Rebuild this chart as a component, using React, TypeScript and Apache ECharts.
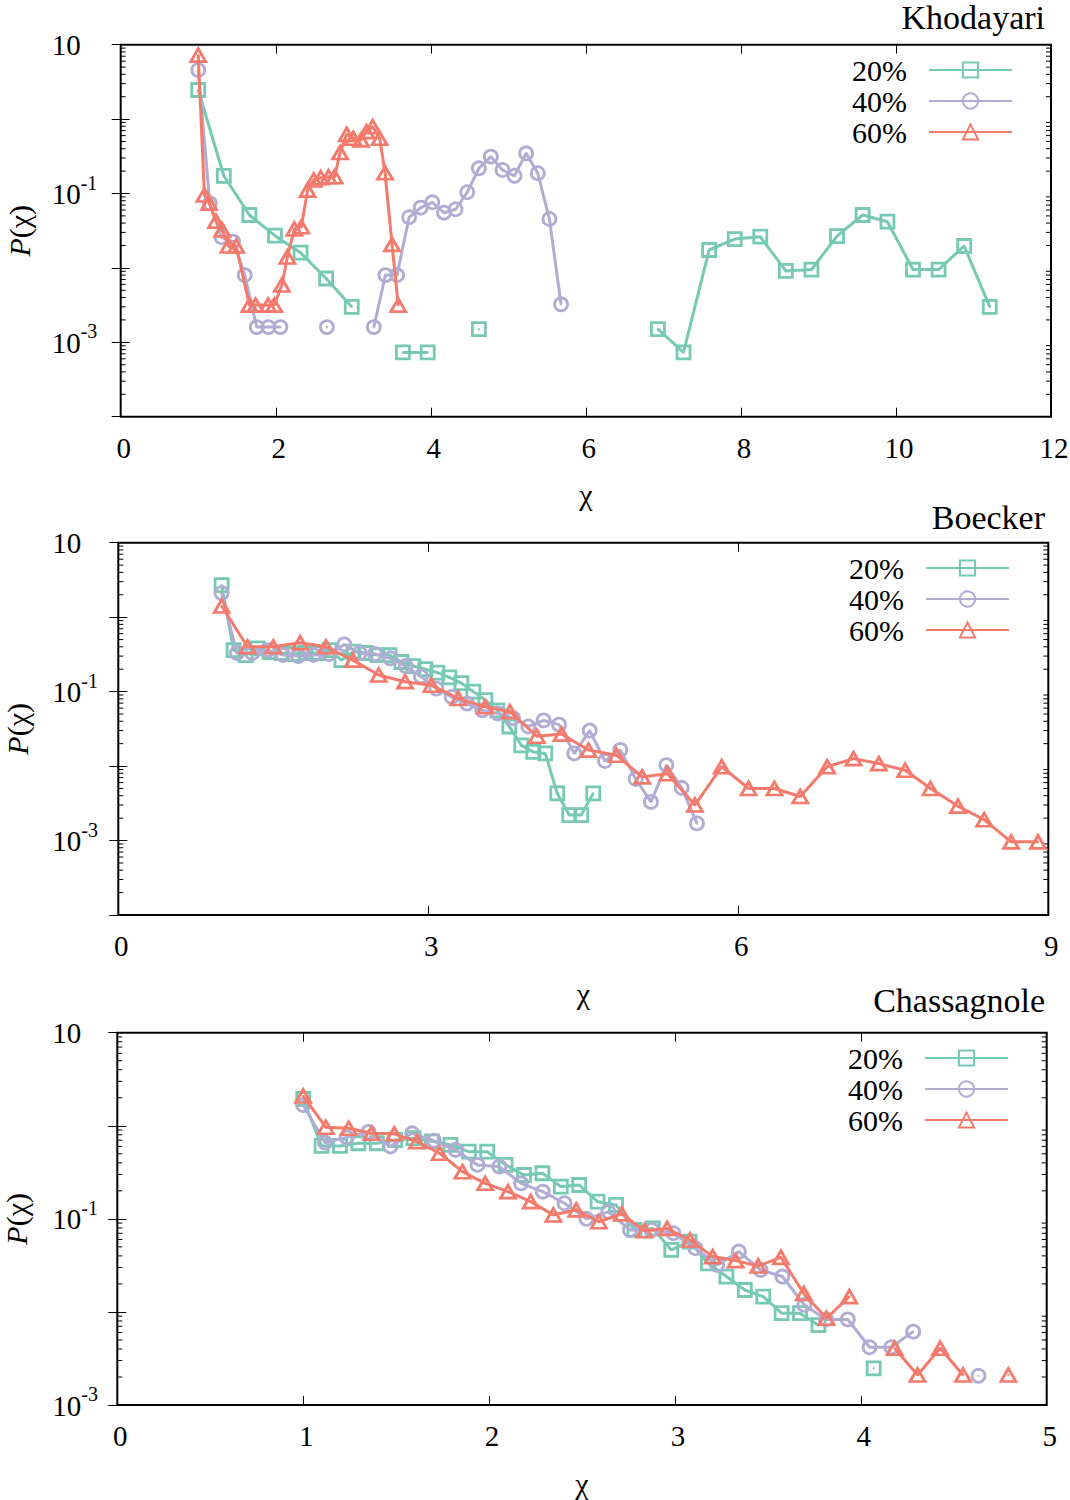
import React, { useEffect, useRef } from 'react';
import * as echarts from 'echarts';

// ---------------- data ----------------
const SERIES_NAMES = ['20%', '40%', '60%'];
const COLORS = ['#76c9b3', '#b0acd4', '#f47a6c'];
const SYMBOLS = ['rect', 'circle', 'triangle'];
const MINOR_MULTIPLIERS = [2, 3, 4, 5, 6, 7, 8, 9];

// Khodayari
const K20_X = [1.0, 1.33, 1.66, 1.99, 2.32, 2.65, 2.98, 3.31, 3.64, 3.96, 4.29, 4.62, 4.95, 5.28, 5.61, 5.94, 6.27, 6.6, 6.93, 7.26, 7.59, 7.92, 8.25, 8.58, 8.91, 9.24, 9.57, 9.89, 10.22, 10.55, 10.88, 11.21];
const K20_Y = [2.46, 0.173, 0.0514, 0.0271, 0.016, 0.0072, 0.003, null, 0.00073, 0.00073, null, 0.0015, null, null, null, null, null, null, 0.0015, 0.00073, 0.0174, 0.0244, 0.0263, 0.0091, 0.0095, 0.0268, 0.0514, 0.0418, 0.0095, 0.0095, 0.0197, 0.003];
const K40_X = [1.0, 1.15, 1.3, 1.45, 1.6, 1.755, 1.905, 2.06, 2.21, 2.36, 2.51, 2.66, 2.81, 2.96, 3.11, 3.265, 3.415, 3.565, 3.72, 3.87, 4.02, 4.17, 4.32, 4.47, 4.62, 4.775, 4.925, 5.08, 5.23, 5.38, 5.53, 5.68];
const K40_Y = [4.57, 0.0738, 0.0258, 0.0225, 0.008, 0.0016, 0.0016, 0.0016, null, null, null, 0.0016, null, null, null, 0.0016, 0.008, 0.008, 0.0479, 0.0645, 0.0762, 0.0552, 0.0614, 0.104, 0.218, 0.313, 0.207, 0.173, 0.347, 0.187, 0.0454, 0.00324];
const K60_X = [1.0, 1.08, 1.14, 1.23, 1.31, 1.39, 1.49, 1.66, 1.74, 1.9, 1.98, 2.08, 2.15, 2.24, 2.33, 2.41, 2.49, 2.58, 2.68, 2.76, 2.83, 2.915, 3.0, 3.1, 3.17, 3.25, 3.34, 3.41, 3.5, 3.58];
const K60_Y = [7.25, 0.0955, 0.074, 0.0426, 0.0324, 0.0197, 0.0197, 0.00316, 0.00316, 0.00316, 0.00316, 0.0059, 0.014, 0.0333, 0.0357, 0.111, 0.152, 0.163, 0.168, 0.168, 0.355, 0.624, 0.552, 0.525, 0.678, 0.79, 0.552, 0.19, 0.0207, 0.00316];

// Boecker
const B20_X = [1.0, 1.116, 1.232, 1.348, 1.464, 1.58, 1.696, 1.812, 1.928, 2.044, 2.16, 2.276, 2.392, 2.508, 2.624, 2.74, 2.856, 2.972, 3.088, 3.204, 3.32, 3.436, 3.552, 3.668, 3.784, 3.9, 4.016, 4.132, 4.248, 4.364, 4.48, 4.596];
const B20_Y = [2.7, 0.36, 0.31, 0.38, 0.34, 0.33, 0.32, 0.33, 0.33, 0.36, 0.265, 0.345, 0.33, 0.31, 0.31, 0.25, 0.22, 0.2, 0.18, 0.155, 0.13, 0.1, 0.077, 0.056, 0.034, 0.019, 0.0155, 0.0148, 0.0043, 0.0022, 0.0022, 0.0043];
const B40_X = [1.0, 1.148, 1.297, 1.445, 1.594, 1.742, 1.89, 2.039, 2.187, 2.336, 2.484, 2.632, 2.781, 2.929, 3.078, 3.226, 3.374, 3.523, 3.671, 3.82, 3.968, 4.116, 4.265, 4.413, 4.562, 4.71, 4.858, 5.007, 5.155, 5.304, 5.452, 5.6];
const B40_Y = [2.1, 0.33, 0.33, 0.36, 0.31, 0.3, 0.31, 0.32, 0.43, 0.33, 0.32, 0.28, 0.22, 0.16, 0.11, 0.085, 0.069, 0.056, 0.051, 0.044, 0.034, 0.041, 0.036, 0.0148, 0.03, 0.0117, 0.0165, 0.0067, 0.0033, 0.0103, 0.0051, 0.0017];
const B60_X = [1.0, 1.25, 1.5, 1.76, 2.01, 2.27, 2.52, 2.775, 3.03, 3.29, 3.55, 3.79, 4.05, 4.29, 4.55, 4.82, 5.07, 5.315, 5.58, 5.84, 6.1, 6.35, 6.6, 6.86, 7.115, 7.36, 7.615, 7.86, 8.125, 8.38, 8.64, 8.9];
const B60_Y = [1.41, 0.4, 0.4, 0.453, 0.4, 0.265, 0.167, 0.136, 0.122, 0.081, 0.0625, 0.0537, 0.0252, 0.0269, 0.0164, 0.014, 0.00716, 0.0079, 0.003, 0.0098, 0.005, 0.005, 0.0039, 0.0098, 0.0126, 0.0108, 0.0088, 0.005, 0.0029, 0.0019, 0.00096, 0.00096];

// Chassagnole
const C20_X = [1.0, 1.099, 1.198, 1.297, 1.396, 1.495, 1.594, 1.693, 1.792, 1.891, 1.99, 2.089, 2.188, 2.287, 2.386, 2.485, 2.584, 2.683, 2.782, 2.881, 2.98, 3.079, 3.178, 3.277, 3.376, 3.475, 3.574, 3.673, 3.772, 3.871, 3.97, 4.069];
const C20_Y = [1.94, 0.607, 0.607, 0.649, 0.649, 0.703, 0.735, 0.68, 0.623, 0.527, 0.527, 0.38, 0.296, 0.309, 0.222, 0.231, 0.153, 0.141, 0.076, 0.079, 0.0464, 0.0569, 0.0333, 0.024, 0.0172, 0.0146, 0.0097, 0.0097, 0.0072, null, null, 0.00248];
const C40_X = [1.0, 1.117, 1.234, 1.352, 1.469, 1.586, 1.703, 1.82, 1.938, 2.055, 2.172, 2.289, 2.406, 2.524, 2.641, 2.758, 2.875, 2.992, 3.11, 3.227, 3.344, 3.461, 3.578, 3.696, 3.813, 3.93, 4.047, 4.164, 4.282, 4.399, 4.516, 4.633];
const C40_Y = [1.67, 0.66, 0.75, 0.86, 0.6, 0.83, 0.69, 0.55, 0.38, 0.364, 0.241, 0.196, 0.147, 0.1, 0.119, 0.076, 0.076, 0.07, 0.0483, 0.032, 0.0445, 0.0282, 0.024, 0.0119, 0.0083, 0.0083, 0.00417, 0.00417, 0.00614, null, null, 0.00206];
const C60_X = [1.0, 1.122, 1.245, 1.367, 1.49, 1.612, 1.734, 1.857, 1.979, 2.102, 2.224, 2.346, 2.469, 2.591, 2.714, 2.836, 2.958, 3.081, 3.203, 3.326, 3.448, 3.57, 3.693, 3.815, 3.938, 4.06, 4.182, 4.305, 4.427, 4.55, 4.672, 4.794];
const C60_Y = [2.09, 0.964, 0.94, 0.83, 0.82, 0.676, 0.507, 0.321, 0.241, 0.196, 0.153, 0.11, 0.125, 0.093, 0.113, 0.0746, 0.079, 0.0593, 0.0393, 0.0356, 0.0312, 0.0386, 0.0158, 0.00855, 0.0146, null, 0.00407, 0.0021, 0.00407, 0.0021, null, 0.0021];

const TITLES = ['Khodayari', 'Boecker', 'Chassagnole'];
const X_MAX = [12, 9, 5];
const X_INTERVAL = [2, 3, 1];
const Y_MIN_EXP = [-4, -4, -3];
const Y_MAX_EXP = [1, 1, 1];
const Y_LABEL_EXPS = [1, -1, -3];
const X_LABEL = 'χ';
const Y_LABEL = '{i|P}(χ)';

const PANEL_DATA = [
  [[K20_X, K20_Y], [K40_X, K40_Y], [K60_X, K60_Y]],
  [[B20_X, B20_Y], [B40_X, B40_Y], [B60_X, B60_Y]],
  [[C20_X, C20_Y], [C40_X, C40_Y], [C60_X, C60_Y]],
];

// ---------------- layout ----------------
const GRIDS = [
  { left: 120.7, top: 44.7, width: 930.3, height: 372 },
  { left: 118.3, top: 542.7, width: 930, height: 372.3 },
  { left: 117.3, top: 1032.7, width: 929.4, height: 372.3 },
];
const Y_LABEL_MARGIN = [69, 66, 65];
const TITLE_TOP = [0, 500, 983];
const LEGEND_TOP = [55, 553, 1043];
const LEGEND_RIGHT = [57, 60, 61];

const FONT = '"Liberation Serif", "DejaVu Serif", "Times New Roman", serif';
const SYMBOL_SIZES: any[] = [13, 13, [15, 13]];

function buildOption() {
  const grid: any[] = [];
  const xAxis: any[] = [];
  const yAxis: any[] = [];
  const series: any[] = [];
  const title: any[] = [];
  const legend: any[] = [];

  for (let p = 0; p < 3; p++) {
    const g = GRIDS[p];
    grid.push({
      left: g.left, top: g.top, width: g.width, height: g.height,
      containLabel: false, outerBoundsMode: 'none',
      show: true, borderColor: '#000', borderWidth: 2, backgroundColor: 'rgba(0,0,0,0)',
    });
    const tick = { show: true, inside: true, length: 9, lineStyle: { color: '#000', width: 1 } };
    xAxis.push({
      type: 'value', gridIndex: p, min: 0, max: X_MAX[p], interval: X_INTERVAL[p],
      axisLine: { show: false }, axisTick: tick, splitLine: { show: false },
      axisLabel: { fontFamily: FONT, fontSize: 29, lineHeight: 30, color: '#000', margin: 16, padding: [0, 0, 0, 6] },
      name: X_LABEL, nameLocation: 'middle', nameGap: 63,
      nameTextStyle: { fontFamily: FONT, fontSize: 30, lineHeight: 30, color: '#000' },
    });
    xAxis.push({
      type: 'value', gridIndex: p, position: 'top', min: 0, max: X_MAX[p], interval: X_INTERVAL[p],
      axisLine: { show: false }, axisTick: tick, splitLine: { show: false }, axisLabel: { show: false },
    });
    const yMin = Math.pow(10, Y_MIN_EXP[p]);
    const yMax = Math.pow(10, Y_MAX_EXP[p]);
    const nDec = Y_MAX_EXP[p] - Y_MIN_EXP[p];
    yAxis.push({
      type: 'log', logBase: 10, gridIndex: p, min: yMin, max: yMax, splitNumber: nDec,
      axisLine: { show: false }, axisTick: tick, splitLine: { show: false }, minorTick: { show: false },
      axisLabel: {
        align: 'left', margin: Y_LABEL_MARGIN[p], color: '#000',
        formatter: (v: number) => {
          const e = Math.round(Math.log10(v));
          if (Y_LABEL_EXPS.indexOf(e) < 0) return '';
          if (e === 1) return '{b|10}{s| }';
          return '{b|10}{s|' + e + '}';
        },
        rich: {
          b: { fontFamily: FONT, fontSize: 29, lineHeight: 30, verticalAlign: 'bottom', color: '#000' },
          s: { fontFamily: FONT, fontSize: 20, lineHeight: 20, verticalAlign: 'bottom', padding: [0, 0, 16, 0], color: '#000' },
        },
      },
      name: Y_LABEL, nameLocation: 'middle', nameRotate: 90, nameGap: 86,
      nameTextStyle: {
        fontFamily: FONT, fontSize: 30, color: '#000',
        rich: { i: { fontFamily: FONT, fontSize: 30, fontStyle: 'italic', color: '#000' } },
      },
    });
    yAxis.push({
      type: 'log', logBase: 10, gridIndex: p, position: 'right', min: yMin, max: yMax, splitNumber: nDec,
      axisLine: { show: false }, axisTick: tick, splitLine: { show: false }, axisLabel: { show: false },
    });

    // data series
    PANEL_DATA[p].forEach((pair, s) => {
      const [xs, ys] = pair;
      const data = xs.map((x: number, j: number) => [x, ys[j] == null ? '-' : ys[j]]);
      series.push({
        type: 'line', name: SERIES_NAMES[s], xAxisIndex: 2 * p, yAxisIndex: 2 * p,
        data, symbol: SYMBOLS[s], symbolSize: SYMBOL_SIZES[s], showSymbol: true, showAllSymbol: true,
        connectNulls: false,
        lineStyle: { color: COLORS[s], width: 3 },
        itemStyle: { color: 'rgba(0,0,0,0)', borderColor: COLORS[s], borderWidth: 2.8 },
        emphasis: { disabled: true }, silent: true, z: 3 + s,
      });
      series.push({
        type: 'scatter', xAxisIndex: 2 * p, yAxisIndex: 2 * p,
        data, symbol: 'circle', symbolSize: 2.5,
        itemStyle: { color: COLORS[s] }, silent: true, z: 3 + s,
      });
    });

    // minor ticks on the log axes
    const minorData: any[] = [];
    for (let e = Y_MIN_EXP[p]; e < Y_MAX_EXP[p]; e++) {
      MINOR_MULTIPLIERS.forEach((m) => minorData.push([0, m * Math.pow(10, e)]));
    }
    series.push({
      type: 'custom', xAxisIndex: 2 * p, yAxisIndex: 2 * p, data: minorData, silent: true, clip: false, z: 2,
      renderItem: (params: any, api: any) => {
        const pt = api.coord([api.value(0), api.value(1)]);
        const cs = params.coordSys;
        const st = { stroke: '#000', lineWidth: 1 };
        return {
          type: 'group',
          children: [
            { type: 'line', shape: { x1: cs.x, y1: pt[1], x2: cs.x + 5, y2: pt[1] }, style: st },
            { type: 'line', shape: { x1: cs.x + cs.width - 5, y1: pt[1], x2: cs.x + cs.width, y2: pt[1] }, style: st },
          ],
        };
      },
    });

    title.push({
      text: TITLES[p], right: 25, top: TITLE_TOP[p], padding: 0,
      textStyle: { fontFamily: FONT, fontSize: 34, lineHeight: 34, fontWeight: 'normal', color: '#000' },
    });
    legend.push({
      data: SERIES_NAMES, orient: 'vertical', right: LEGEND_RIGHT[p], top: LEGEND_TOP[p], padding: 0,
      itemWidth: 83, itemHeight: 19, itemGap: 1, align: 'right', selectedMode: false,
      textStyle: { fontFamily: FONT, fontSize: 30, lineHeight: 30, color: '#000', padding: [0, 17, 0, 0] },
    });
  }

  return { animation: false, backgroundColor: '#fff', grid, xAxis, yAxis, series, title, legend };
}

export default function App() {
  const ref = useRef<HTMLDivElement>(null);
  useEffect(() => {
    if (!ref.current) return;
    const chart = echarts.init(ref.current, undefined, { renderer: 'svg' });
    chart.setOption(buildOption() as any);
    return () => chart.dispose();
  }, []);
  return <div ref={ref} style={{ position: 'absolute', left: 0, top: 0, width: 1070, height: 1500 }} />;
}
